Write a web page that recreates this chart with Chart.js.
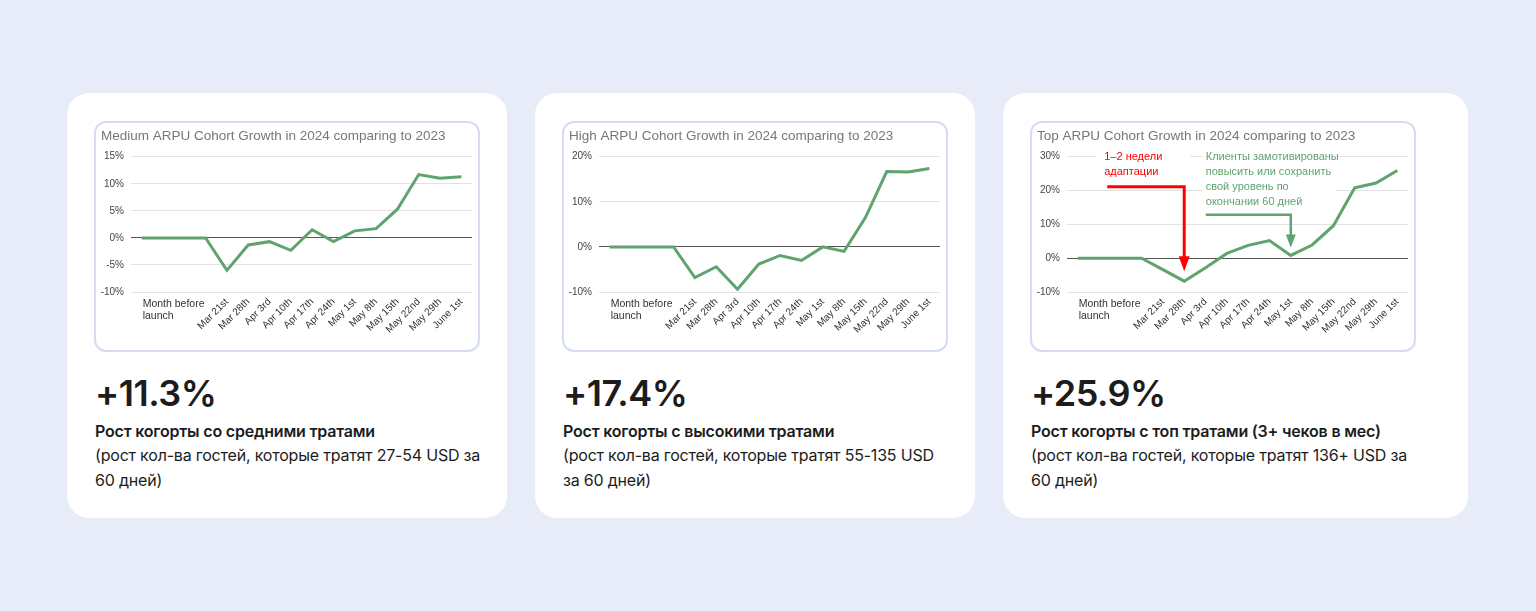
<!DOCTYPE html>
<html>
<head>
<meta charset="utf-8">
<script src="https://cdn.jsdelivr.net/npm/chart.js"></script>
<style>
  html, body {
    margin: 0;
    padding: 0;
    width: 1536px;
    height: 611px;
    background: #e8ecf8;
    font-family: 'Inter', 'Noto Sans', sans-serif;
    color: #1c1c1c;
    overflow: hidden;
  }
  .card {
    position: absolute;
    top: 93px;
    height: 425px;
    background: #fff;
    border-radius: 22px;
  }
  .box {
    position: absolute;
    left: 27px;
    top: 28px;
    width: 386px;
    height: 231px;
    box-sizing: border-box;
    border: 2px solid #d4dcf4;
    border-radius: 12px;
    background: #fff;
  }
  .box .wrap {
    position: relative;
    width: 382px;
    height: 227px;
  }
  .big {
    position: absolute;
    left: 28px;
    top: 282px;
    font-size: 36px;
    line-height: 1;
    font-weight: 600;
    letter-spacing: -0.5px;
    white-space: nowrap;
  }
  .txt {
    position: absolute;
    left: 28px;
    top: 326px;
    font-size: 16px;
    line-height: 24.3px;
    white-space: nowrap;
    letter-spacing: -0.2px;
  }
  .txt b {
    font-weight: 600;
  }
</style>
</head>
<body>

<div class="card" style="left:67px;width:440px">
  <div class="box"><div class="wrap"><canvas id="mediumChart"></canvas></div></div>
  <div class="big">+11.3%</div>
  <div class="txt"><b>Рост когорты со средними тратами</b><br>(рост кол-ва гостей, которые тратят 27-54 USD за<br>60 дней)</div>
</div>

<div class="card" style="left:535px;width:440px">
  <div class="box"><div class="wrap"><canvas id="highChart"></canvas></div></div>
  <div class="big">+17.4%</div>
  <div class="txt"><b>Рост когорты с высокими тратами</b><br>(рост кол-ва гостей, которые тратят 55-135 USD<br>за 60 дней)</div>
</div>

<div class="card" style="left:1003px;width:465px">
  <div class="box"><div class="wrap"><canvas id="topChart"></canvas></div></div>
  <div class="big">+25.9%</div>
  <div class="txt"><b>Рост когорты с топ тратами (3+ чеков в мес)</b><br>(рост кол-ва гостей, которые тратят 136+ USD за<br>60 дней)</div>
</div>

<script>
// Data
const categories = ['Month before launch', '', '', '', 'Mar 21st', 'Mar 28th', 'Apr 3rd', 'Apr 10th',
  'Apr 17th', 'Apr 24th', 'May 1st', 'May 8th', 'May 15th', 'May 22nd', 'May 29th', 'June 1st'];

const mediumValues = [0, 0, 0, 0, -6.0, -1.3, -0.7, -2.3, 1.5, -0.7, 1.3, 1.7, 5.3, 11.7, 11.0, 11.3];
const highValues = [0, 0, 0, 0, -6.8, -4.4, -9.4, -3.8, -1.9, -3.0, 0, -1.0, 6.5, 16.7, 16.6, 17.4];
const topValues = [0, 0, 0, 0, -3.4, -6.8, -2.8, 1.4, 3.8, 5.2, 0.8, 3.9, 9.6, 20.8, 22.2, 25.9];

const mediumTicks = [-10, -5, 0, 5, 10, 15];
const highTicks = [-10, 0, 10, 20];
const topTicks = [-10, 0, 10, 20, 30];

const redNote = ['1–2 недели', 'адаптации'];
const greenNote = ['Клиенты замотивированы', 'повысить или сохранить', 'свой уровень по', 'окончании 60 дней'];

const lineColor = '#5fa36e';
const fontFamily = "'Liberation Sans', Arial, sans-serif";

Chart.defaults.font.family = fontFamily;
Chart.defaults.animation = false;

// first category label is drawn flat, the rest are rotated
const flatLabel = {
  id: 'flatLabel',
  afterDraw(chart) {
    const ctx = chart.ctx;
    const x = chart.scales.x.getPixelForValue(0) + 1;
    const y = chart.chartArea.bottom;
    ctx.save();
    ctx.font = '10.5px ' + fontFamily;
    ctx.fillStyle = '#333';
    ctx.textBaseline = 'middle';
    ctx.textAlign = 'left';
    const words = categories[0].split(' ');
    ctx.fillText(words.slice(0, 2).join(' '), x, y + 12);
    ctx.fillText(words.slice(2).join(' '), x, y + 24);
    ctx.restore();
  }
};

function drawArrow(ctx, x0, yLine, x1, yTip, color, width, headW, headH) {
  ctx.strokeStyle = color;
  ctx.fillStyle = color;
  ctx.lineWidth = width;
  ctx.beginPath();
  ctx.moveTo(x0, yLine);
  ctx.lineTo(x1, yLine);
  ctx.lineTo(x1, yTip - headH + 1);
  ctx.stroke();
  ctx.beginPath();
  ctx.moveTo(x1 - headW / 2, yTip - headH);
  ctx.lineTo(x1 + headW / 2, yTip - headH);
  ctx.lineTo(x1, yTip);
  ctx.closePath();
  ctx.fill();
}

// notes + arrows on the top cohort chart
const notes = {
  id: 'notes',
  afterDatasetsDraw(chart) {
    const ctx = chart.ctx;
    const xs = chart.scales.x;
    const ys = chart.scales.y;
    const top = chart.chartArea.top;
    ctx.save();
    ctx.font = '11px ' + fontFamily;
    ctx.textBaseline = 'middle';
    ctx.textAlign = 'left';

    // red one -> Mar 28th
    let rx = xs.getPixelForValue(5);
    let rTip = ys.getPixelForValue(topValues[5]) - 10;
    ctx.fillStyle = '#fff';
    ctx.fillRect(rx - 88, top - 8, 94, 32);
    ctx.fillStyle = '#ff0000';
    redNote.forEach((t, i) => ctx.fillText(t, rx - 80, top + i * 15.5));
    drawArrow(ctx, rx - 77, top + 30, rx, rTip, '#ff0000', 3, 11, 15);

    // green one -> May 1st
    let gx = xs.getPixelForValue(10);
    let gTip = ys.getPixelForValue(topValues[10]) - 8;
    ctx.fillStyle = '#fff';
    ctx.fillRect(gx - 88, top - 8, 134, 62);
    ctx.fillStyle = lineColor;
    greenNote.forEach((t, i) => ctx.fillText(t, gx - 85, top + i * 15.2));
    drawArrow(ctx, gx - 85, top + 58, gx, gTip, lineColor, 2.5, 10, 13);
    ctx.restore();
  }
};

function makeChart(id, title, values, ticks, extra) {
  return new Chart(document.getElementById(id), {
    type: 'line',
    data: {
      labels: categories,
      datasets: [{
        data: values,
        borderColor: lineColor,
        borderWidth: 3,
        pointRadius: 0,
        tension: 0,
        fill: false
      }]
    },
    options: {
      responsive: true,
      maintainAspectRatio: false,
      layout: { padding: { left: 5, right: 6, top: 0, bottom: 0 } },
      plugins: {
        legend: { display: false },
        tooltip: { enabled: false },
        title: {
          display: true,
          text: title,
          align: 'start',
          color: '#777',
          font: { size: 13.5, weight: 'normal' },
          padding: { top: 5.5, bottom: 12 }
        }
      },
      scales: {
        x: {
          offset: true,
          grid: { display: false, drawTicks: false },
          border: { display: false },
          afterFit: (s) => { s.height = 58; },
          ticks: {
            autoSkip: false,
            minRotation: 45,
            maxRotation: 45,
            padding: 4,
            color: '#333',
            font: { size: 10 },
            callback: (v, i) => (i === 0 ? '' : categories[i])
          }
        },
        y: {
          min: ticks[0],
          max: ticks[ticks.length - 1],
          afterFit: (s) => { s.width = 30; },
          afterBuildTicks: (s) => { s.ticks = ticks.map(v => ({ value: v })); },
          grid: {
            drawTicks: false,
            color: (c) => (c.tick && c.tick.value === 0 ? '#555' : '#e2e2e2'),
            lineWidth: 1
          },
          border: { display: false },
          ticks: {
            padding: 7,
            color: '#444',
            font: { size: 10 },
            callback: (v) => v + '%'
          }
        }
      }
    },
    plugins: [flatLabel].concat(extra || [])
  });
}

makeChart('mediumChart', 'Medium ARPU Cohort Growth in 2024 comparing to 2023', mediumValues, mediumTicks);
makeChart('highChart', 'High ARPU Cohort Growth in 2024 comparing to 2023', highValues, highTicks);
makeChart('topChart', 'Top ARPU Cohort Growth in 2024 comparing to 2023', topValues, topTicks, [notes]);
</script>
</body>
</html>
